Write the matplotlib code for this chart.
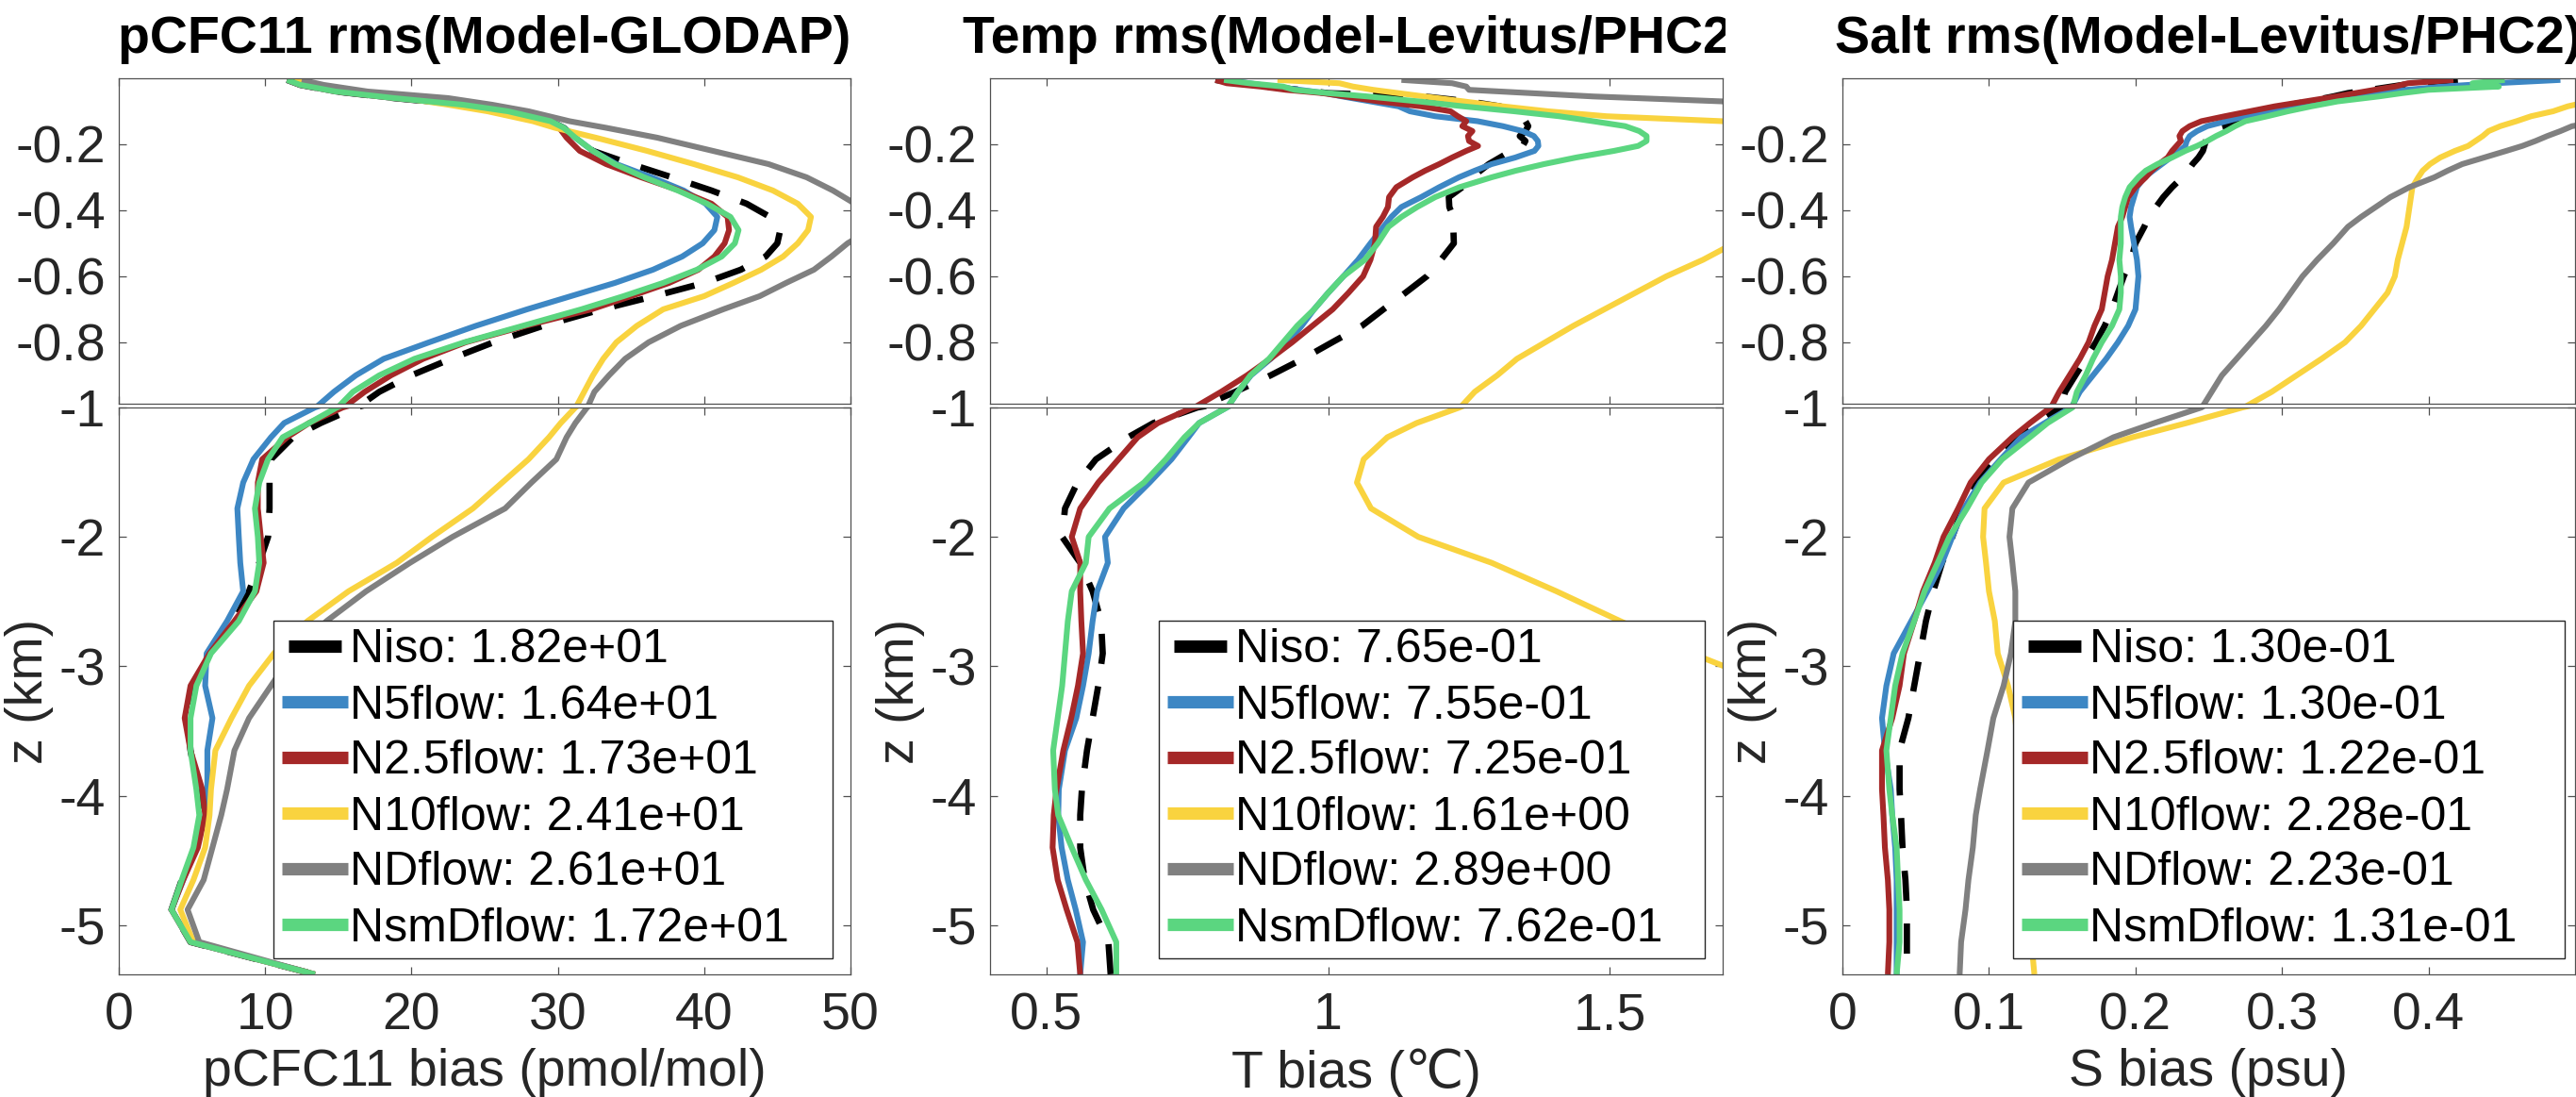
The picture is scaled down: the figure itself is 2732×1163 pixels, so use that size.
import numpy as np
import matplotlib
matplotlib.use("Agg")
import matplotlib.pyplot as plt
from matplotlib.transforms import Bbox, TransformedBbox
from matplotlib.ticker import FixedLocator, FormatStrFormatter

plt.rcParams['font.family'] = ['Liberation Sans', 'DejaVu Sans']
plt.rcParams['axes.unicode_minus'] = False

# ---------------- data ----------------
runs = ['Niso', 'N5flow', 'N2.5flow', 'N10flow', 'NDflow', 'NsmDflow']
colors = ['#000000', '#3D87C4', '#A52828', '#F9D33F', '#808080', '#5BD680']

rms_cfc = [18.2, 16.4, 17.3, 24.1, 26.1, 17.2]
rms_temp = [0.765, 0.755, 0.725, 1.61, 2.89, 0.762]
rms_salt = [0.130, 0.130, 0.122, 0.228, 0.223, 0.131]

# depth levels (km, positive downward)
depth_cfc = [0.005, 0.02, 0.04, 0.06, 0.08, 0.10, 0.13, 0.15, 0.18, 0.22,
             0.26, 0.30, 0.34, 0.38, 0.42, 0.46, 0.50, 0.54, 0.58, 0.62,
             0.66, 0.70, 0.75, 0.80, 0.85, 0.90, 0.95, 1.00, 1.12, 1.23,
             1.40, 1.58, 1.78, 2.00, 2.20, 2.42, 2.65, 2.90, 3.15, 3.40,
             3.65, 3.95, 4.15, 4.40, 4.65, 4.88, 5.13, 5.38]

cfc_niso = [11.5, 12.4, 14.8, 18.8, 23.5, 26.6, 29.5, 30.4, 31.2, 32.4,
            35.0, 37.8, 40.5, 42.9, 44.5, 45.2, 45.0, 44.2, 42.5, 40.0,
            36.6, 33.0, 29.0, 25.6, 22.7, 20.0, 17.8, 16.2, 13.8, 11.9,
            10.4, 10.3, 10.3, 10.2, 9.6, 8.9, 7.9, 6.2, 5.0, 4.7,
            4.9, 5.4, 5.6, 5.2, 4.3, 3.6, 4.9, 13.4]
cfc_n5 = [11.5, 12.4, 14.8, 18.8, 23.5, 26.6, 29.5, 30.4, 31.2, 32.4,
          34.0, 36.4, 38.6, 40.1, 40.9, 40.7, 39.9, 38.5, 36.5, 33.9,
          30.9, 27.9, 24.4, 21.2, 18.1, 16.2, 14.7, 13.4, 11.3, 10.4,
          9.2, 8.5, 8.1, 8.2, 8.3, 8.5, 7.4, 6.0, 5.9, 6.4,
          6.05, 6.05, 5.9, 5.2, 4.4, 3.6, 4.9, 13.4]
cfc_n25 = [11.5, 12.4, 14.8, 18.8, 23.5, 26.6, 29.5, 30.1, 30.6, 31.5,
           33.3, 35.7, 38.3, 40.5, 41.6, 41.7, 41.4, 40.7, 39.6, 37.6,
           35.0, 32.3, 27.8, 23.7, 20.8, 18.6, 16.8, 15.3, 13.0, 11.5,
           9.8, 9.5, 9.5, 9.7, 9.9, 9.4, 7.9, 6.2, 4.9, 4.5,
           4.9, 5.7, 5.9, 5.4, 4.4, 3.6, 4.9, 13.4]
cfc_n10 = [12.0, 13.5, 15.8, 19.5, 22.5, 25.2, 28.3, 29.8, 32.6, 36.1,
           39.3, 42.3, 44.7, 46.4, 47.3, 47.1, 46.4, 45.4, 43.9, 42.0,
           40.0, 37.2, 35.4, 34.0, 33.1, 32.4, 31.8, 31.2, 30.2, 29.4,
           28.0, 26.2, 24.2, 21.4, 19.0, 15.7, 12.9, 10.6, 8.9, 7.7,
           6.6, 6.3, 6.2, 5.9, 5.1, 4.2, 5.1, 13.4]
cfc_nd = [12.5, 14.0, 17.0, 22.5, 25.5, 28.0, 30.8, 33.3, 36.8, 40.6,
          44.4, 47.0, 48.8, 50.3, 51.5, 51.3, 49.8, 48.7, 47.5, 45.6,
          43.8, 41.3, 38.4, 36.2, 34.6, 33.5, 32.5, 32.0, 31.2, 30.6,
          29.9, 28.2, 26.4, 22.8, 19.9, 16.9, 14.2, 11.9, 10.4, 8.9,
          7.9, 7.4, 7.0, 6.4, 5.8, 4.7, 5.5, 13.4]
cfc_nsmd = [11.5, 12.4, 14.8, 18.8, 23.5, 26.6, 29.5, 30.4, 31.2, 32.4,
            33.9, 35.9, 38.2, 40.2, 41.8, 42.35, 42.1, 41.2, 39.5, 37.2,
            34.5, 31.6, 27.6, 23.6, 20.2, 17.8, 16.0, 14.9, 13.0, 11.2,
            10.2, 9.6, 9.3, 9.5, 9.6, 9.3, 8.2, 6.3, 5.3, 4.9,
            4.9, 5.3, 5.5, 5.1, 4.3, 3.6, 4.9, 13.4]

depth_ts = [0.005, 0.015, 0.025, 0.035, 0.045, 0.055, 0.07, 0.085, 0.10, 0.115,
            0.13, 0.145, 0.16, 0.175, 0.19, 0.205, 0.22, 0.24, 0.26, 0.28,
            0.30, 0.33, 0.36, 0.39, 0.42, 0.45, 0.50, 0.55, 0.60, 0.65,
            0.70, 0.75, 0.80, 0.85, 0.90, 0.95, 1.00, 1.12, 1.23, 1.40,
            1.58, 1.78, 2.00, 2.20, 2.42, 2.65, 2.90, 3.15, 3.40, 3.65,
            3.95, 4.15, 4.40, 4.65, 4.88, 5.13, 5.38]

temp_niso = [0.80, 0.84, 0.89, 0.95, 1.0, 1.17, 1.25, 1.305, 1.33, 1.345,
             1.35, 1.355, 1.35, 1.34, 1.35, 1.345, 1.325, 1.305, 1.285, 1.27,
             1.255, 1.238, 1.214, 1.215, 1.222, 1.222, 1.223, 1.2, 1.175, 1.137,
             1.098, 1.06, 1.007, 0.955, 0.898, 0.835, 0.768, 0.69, 0.645, 0.588,
             0.555, 0.533, 0.528, 0.56, 0.582, 0.597, 0.60, 0.592, 0.582, 0.572,
             0.563, 0.56, 0.56, 0.568, 0.583, 0.61, 0.614]
temp_n5 = [0.82, 0.86, 0.90, 0.95, 0.995, 1.025, 1.075, 1.125, 1.145, 1.19,
           1.265, 1.31, 1.345, 1.365, 1.372, 1.373, 1.366, 1.332, 1.29, 1.26,
           1.232, 1.197, 1.165, 1.13, 1.112, 1.098, 1.075, 1.053, 1.027, 1.0,
           0.975, 0.953, 0.928, 0.898, 0.863, 0.84, 0.82, 0.771, 0.752, 0.722,
           0.683, 0.637, 0.604, 0.609, 0.59, 0.582, 0.575, 0.565, 0.553, 0.533,
           0.522, 0.521, 0.527, 0.538, 0.552, 0.565, 0.56]
temp_n25 = [0.80, 0.82, 0.88, 0.925, 0.99, 1.03, 1.09, 1.165, 1.217, 1.23,
            1.245, 1.238, 1.256, 1.248, 1.25, 1.266, 1.245, 1.22, 1.197, 1.172,
            1.15, 1.121, 1.108, 1.106, 1.097, 1.085, 1.083, 1.075, 1.062, 1.036,
            1.008, 0.972, 0.936, 0.897, 0.856, 0.81, 0.76, 0.698, 0.662, 0.628,
            0.592, 0.56, 0.545, 0.56, 0.56, 0.562, 0.565, 0.556, 0.544, 0.53,
            0.518, 0.513, 0.511, 0.52, 0.536, 0.555, 0.56]
temp_n10 = [0.91, 1.02, 1.044, 1.08, 1.125, 1.17, 1.24, 1.31, 1.39, 1.494,
            1.70, 1.80, 1.88, 1.95, 2.0, 2.02, 2.04, 2.05, 2.05, 2.04,
            2.02, 1.98, 1.94, 1.9, 1.86, 1.82, 1.72, 1.665, 1.60, 1.545,
            1.49, 1.435, 1.385, 1.335, 1.30, 1.26, 1.233, 1.157, 1.105, 1.063,
            1.051, 1.076, 1.16, 1.29, 1.405, 1.518, 1.645, 1.79, 1.85, 1.9,
            1.95, 1.97, 1.98, 1.98, 1.97, 1.95, 1.94]
temp_nd = [1.13, 1.22, 1.245, 1.25, 1.36, 1.47, 1.70, 1.95, 2.2, 2.4,
           2.6, 2.8, 3.0, 3.1, 3.2, 3.3, 3.4, 3.5, 3.6, 3.7,
           3.8, 3.9, 4.0, 4.0, 4.0, 4.0, 4.0, 3.9, 3.8, 3.7,
           3.6, 3.5, 3.4, 3.3, 3.2, 3.1, 3.0, 2.9, 2.8, 2.7,
           2.6, 2.5, 2.4, 2.3, 2.2, 2.1, 2.0, 2.0, 2.0, 2.0,
           2.0, 2.0, 2.0, 2.0, 2.0, 2.0, 2.0]
temp_nsmd = [0.815, 0.86, 0.92, 0.94, 1.0, 1.07, 1.16, 1.24, 1.33, 1.41,
             1.47, 1.527, 1.552, 1.565, 1.565, 1.55, 1.507, 1.44, 1.383, 1.333,
             1.29, 1.233, 1.19, 1.158, 1.13, 1.107, 1.088, 1.065, 1.027, 1.0,
             0.975, 0.945, 0.92, 0.895, 0.862, 0.84, 0.82, 0.771, 0.745, 0.712,
             0.673, 0.612, 0.575, 0.57, 0.545, 0.538, 0.533, 0.528, 0.52, 0.512,
             0.515, 0.521, 0.545, 0.57, 0.598, 0.624, 0.624]

salt_niso = [0.42, 0.39, 0.375, 0.36, 0.345, 0.335, 0.318, 0.3, 0.288, 0.28,
             0.273, 0.262, 0.251, 0.249, 0.248, 0.247, 0.246, 0.243, 0.239, 0.236,
             0.232, 0.225, 0.219, 0.214, 0.209, 0.206, 0.2, 0.197, 0.192, 0.188,
             0.184, 0.179, 0.173, 0.166, 0.159, 0.152, 0.149, 0.132, 0.12, 0.104,
             0.092, 0.082, 0.075, 0.068, 0.062, 0.057, 0.053, 0.049, 0.045, 0.039,
             0.039, 0.04, 0.041, 0.043, 0.044, 0.044, 0.044]
salt_n5 = [0.49, 0.445, 0.41, 0.385, 0.365, 0.35, 0.325, 0.305, 0.29, 0.275,
           0.262, 0.249, 0.242, 0.237, 0.235, 0.234, 0.23, 0.224, 0.218, 0.212,
           0.206, 0.201, 0.199, 0.197, 0.196, 0.197, 0.199, 0.201, 0.202, 0.201,
           0.2, 0.195, 0.188, 0.18, 0.171, 0.162, 0.156, 0.138, 0.122, 0.108,
           0.094, 0.083, 0.075, 0.068, 0.058, 0.047, 0.035, 0.03, 0.027, 0.029,
           0.033, 0.034, 0.036, 0.037, 0.037, 0.037, 0.037]
salt_n25 = [0.417, 0.386, 0.377, 0.363, 0.35, 0.337, 0.316, 0.295, 0.278, 0.261,
            0.245, 0.237, 0.232, 0.23, 0.231, 0.228, 0.225, 0.222, 0.216, 0.211,
            0.207, 0.2, 0.195, 0.193, 0.191, 0.188, 0.186, 0.184, 0.181, 0.179,
            0.177, 0.172, 0.168, 0.162, 0.155, 0.148, 0.142, 0.128, 0.116, 0.1,
            0.0875, 0.079, 0.069, 0.063, 0.055, 0.049, 0.042, 0.039, 0.034, 0.027,
            0.027, 0.028, 0.029, 0.031, 0.032, 0.032, 0.031]
salt_n10 = [0.75, 0.72, 0.68, 0.64, 0.60, 0.56, 0.51, 0.495, 0.485, 0.47,
            0.46, 0.449, 0.441, 0.437, 0.432, 0.427, 0.418, 0.408, 0.401, 0.396,
            0.393, 0.389, 0.388, 0.387, 0.386, 0.385, 0.382, 0.379, 0.377, 0.372,
            0.363, 0.354, 0.343, 0.327, 0.31, 0.293, 0.273, 0.235, 0.198, 0.148,
            0.11, 0.097, 0.096, 0.098, 0.1, 0.104, 0.106, 0.113, 0.118, 0.12,
            0.121, 0.122, 0.124, 0.125, 0.127, 0.129, 0.131]
salt_nd = [0.95, 0.9, 0.85, 0.80, 0.76, 0.72, 0.66, 0.62, 0.58, 0.55,
           0.52, 0.498, 0.49, 0.481, 0.473, 0.464, 0.453, 0.438, 0.423, 0.413,
           0.404, 0.387, 0.374, 0.364, 0.354, 0.345, 0.335, 0.324, 0.314, 0.306,
           0.298, 0.289, 0.279, 0.269, 0.259, 0.252, 0.245, 0.213, 0.185, 0.155,
           0.127, 0.116, 0.114, 0.116, 0.118, 0.118, 0.115, 0.11, 0.103, 0.099,
           0.094, 0.091, 0.089, 0.086, 0.084, 0.081, 0.08]
salt_nsmd = [0.452, 0.43, 0.448, 0.40, 0.382, 0.366, 0.338, 0.32, 0.304, 0.29,
             0.275, 0.268, 0.262, 0.255, 0.249, 0.242, 0.234, 0.225, 0.215, 0.207,
             0.202, 0.196, 0.193, 0.191, 0.19, 0.19, 0.19, 0.189, 0.19, 0.19,
             0.189, 0.184, 0.177, 0.171, 0.166, 0.16, 0.157, 0.14, 0.128, 0.109,
             0.095, 0.085, 0.073, 0.065, 0.056, 0.049, 0.041, 0.036, 0.033, 0.03,
             0.032, 0.034, 0.037, 0.038, 0.039, 0.039, 0.037]

titles = ['pCFC11 rms(Model-GLODAP)', 'Temp rms(Model-Levitus/PHC2)',
          'Salt rms(Model-Levitus/PHC2)']
xlabels = ['pCFC11 bias (pmol/mol)', 'T bias (\u2103)', 'S bias (psu)']
xlims = [(0, 50), (0.4, 1.7), (0, 0.5)]
xticks = [[0, 10, 20, 30, 40, 50], [0.5, 1, 1.5], [0, 0.1, 0.2, 0.3, 0.4]]
upper_yticks = [-0.8, -0.6, -0.4, -0.2]
lower_yticks = [-5, -4, -3, -2, -1]

# ---------------- layout (pixels) ----------------
W, H = 2732, 1163
lefts = [126, 1050, 1954]
widths = [776, 777, 777]
up_top, up_bot = 83, 428
lo_top, lo_bot = 432, 1033
leg_left = [290, 1229, 2135]
leg_w = [593, 579, 585]
leg_bottom = 1016

AXC = '#262626'
fig = plt.figure(figsize=(W / 100, H / 100), dpi=100)

panel_data = [
    (depth_cfc, [cfc_niso, cfc_n5, cfc_n25, cfc_n10, cfc_nd, cfc_nsmd], rms_cfc),
    (depth_ts, [temp_niso, temp_n5, temp_n25, temp_n10, temp_nd, temp_nsmd], rms_temp),
    (depth_ts, [salt_niso, salt_n5, salt_n25, salt_n10, salt_nd, salt_nsmd], rms_salt),
]


def style_axes(ax):
    for s in ax.spines.values():
        s.set_color('#505050')
        s.set_linewidth(0.9)
    ax.tick_params(direction='in', length=6, width=0.9, color='#505050',
                   top=True, right=True, labelsize=40, labelcolor=AXC)
    ax.tick_params(axis='x', pad=13)
    ax.tick_params(axis='y', pad=10)
    ax.set_facecolor('white')


for i in range(3):
    l, w = lefts[i], widths[i]
    ax_up = fig.add_axes([l / W, 1 - up_bot / H, w / W, (up_bot - up_top) / H])
    ax_lo = fig.add_axes([l / W, 1 - lo_bot / H, w / W, (lo_bot - lo_top) / H])
    depth, series, rms = panel_data[i]
    z = -np.asarray(depth)
    for ax in (ax_up, ax_lo):
        for j in range(len(runs)):
            kw = dict(color=colors[j], lw=4.4, solid_joinstyle='round',
                      dash_joinstyle='round', solid_capstyle='butt')
            if j == 0:
                kw['lw'] = 4.8
                kw['ls'] = (0, (4.8, 3.6))
            ax.plot(series[j], z, label='%s: %.2e' % (runs[j], rms[j]), **kw)
        ax.set_xlim(*xlims[i])
        ax.xaxis.set_major_locator(FixedLocator(xticks[i]))
        ax.xaxis.set_major_formatter(FormatStrFormatter('%g'))
        ax.yaxis.set_major_formatter(FormatStrFormatter('%g'))
        style_axes(ax)
    ax_up.set_ylim(-0.986, 0)
    ax_up.yaxis.set_major_locator(FixedLocator(upper_yticks))
    ax_up.tick_params(labelbottom=False)
    ax_lo.set_ylim(-5.38, -1.0)
    ax_lo.yaxis.set_major_locator(FixedLocator(lower_yticks))
    ax_lo.set_xlabel(xlabels[i], fontsize=40, color=AXC, labelpad=6)
    ax_lo.set_ylabel('z (km)', fontsize=40, color=AXC, labelpad=4)

    t = ax_up.set_title(titles[i], fontsize=40, fontweight='bold', pad=19.5,
                        color='black')
    if i == 1:
        t.set_clip_box(TransformedBbox(Bbox.from_extents(0, 0, 1830 / W, 1),
                                       fig.transFigure))
        t.set_clip_on(True)

    x0 = (leg_left[i] - l) / w
    lw_ = leg_w[i] / w
    y0 = (lo_bot - leg_bottom) / (lo_bot - lo_top)
    leg = ax_lo.legend(loc='lower left', bbox_to_anchor=(x0, y0, lw_, 0.5),
                       mode='expand', borderaxespad=0, fontsize=36,
                       frameon=True, fancybox=False, framealpha=1,
                       edgecolor=AXC, handlelength=1.4, handletextpad=0.05,
                       labelspacing=0.26, borderpad=0.17)
    leg.get_frame().set_linewidth(1.0)
    for k, ln in enumerate(leg.get_lines()):
        ln.set_linewidth(9.5)
        if k == 0:
            ln.set_linestyle((5.71, (4.24, 2.0)))
    for txt in leg.get_texts():
        txt.set_color('black')

fig.savefig('out.png', dpi=100)
